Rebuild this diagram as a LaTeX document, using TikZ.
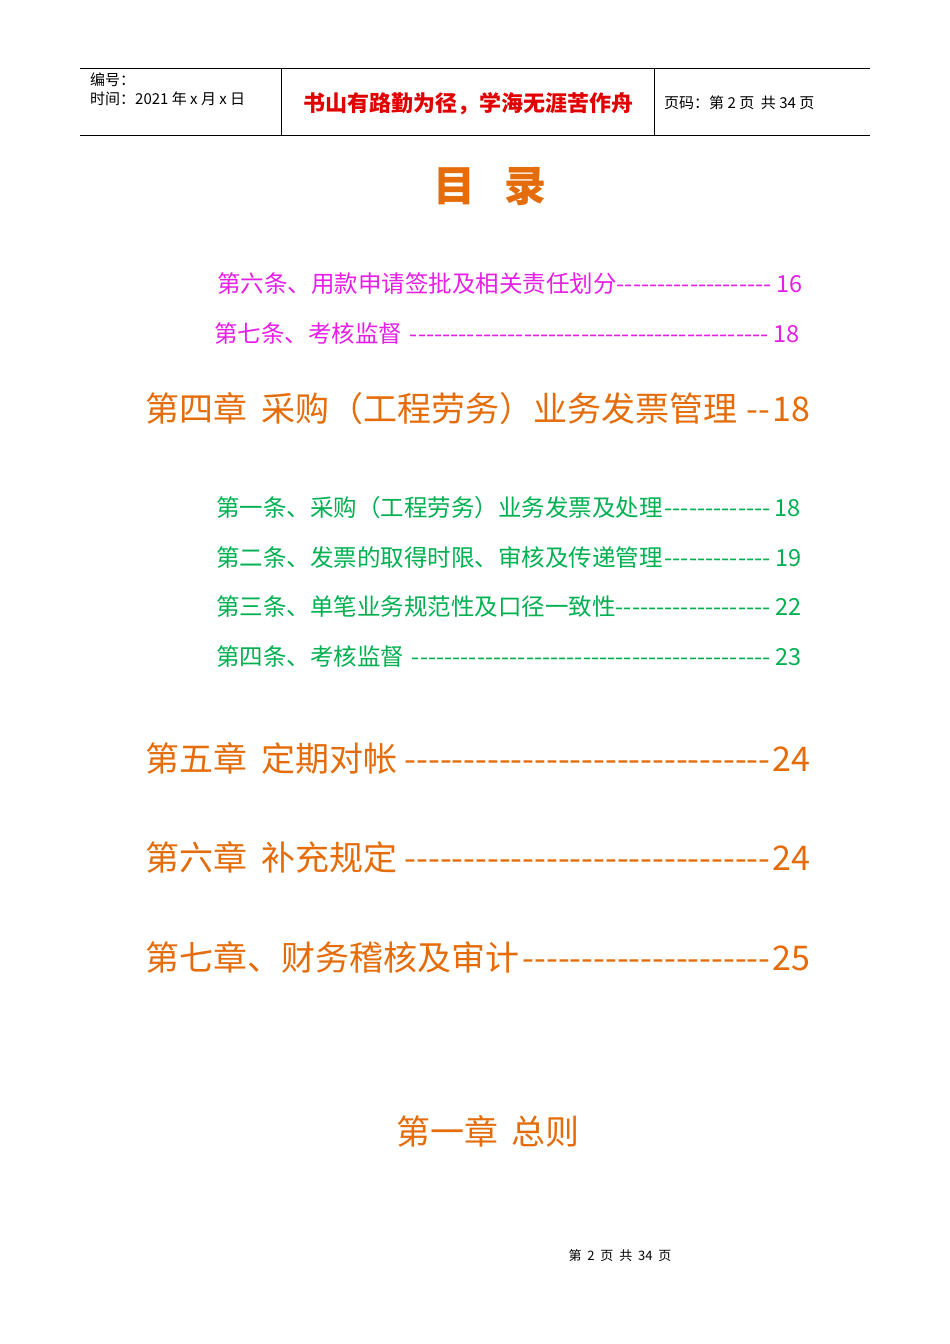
\documentclass[tikz,border=0pt]{standalone}
\usepackage{fontspec}
\setmainfont{Noto Sans CJK SC}
\definecolor{orng}{RGB}{228,108,10}
\definecolor{mag}{RGB}{230,30,230}
\definecolor{grn}{RGB}{0,176,80}
\definecolor{hred}{RGB}{225,0,0}
\newcommand{\tocline}[3]{\makebox[#1][s]{#2\leaders\hbox{-}\hfill#3}}
\tikzset{
  hdr/.style={anchor=west,inner sep=0pt,font=\fontsize{15}{16}\selectfont},
  sub/.style={anchor=west,inner sep=0pt,font=\fontsize{23.5}{24}\selectfont},
  chap/.style={anchor=west,inner sep=0pt,text=orng,font=\fontsize{34}{36}\selectfont},
}
\begin{document}
\begin{tikzpicture}[x=1pt,y=-1pt]
\useasboundingbox (0,0) rectangle (950,1344);
\draw[line width=0.8pt] (80,68) -- (870,68) (80,135) -- (870,135) (281,68) -- (281,135) (654,68) -- (654,135);
\node[hdr] (bh) at (90,80) {编号：};
\node[hdr] (sj) at (90,99) {时间：2021 年 x 月 x 日};
\node[inner sep=0pt,text=hred,font=\fontsize{22}{23}\selectfont\bfseries] (motto) at (468,104) {书山有路勤为径，学海无涯苦作舟};
\node[hdr] (ym) at (664,103) {页码：第 2 页\ \ 共 34 页};
\node[inner sep=0pt,text=orng,font=\fontsize{42}{44}\selectfont\bfseries] (title) at (490,186) {目\ \ \ 录};
\node[sub,text=mag] (m1) at (217,284) {\tocline{585pt}{第六条、用款申请签批及相关责任划分}{16}};
\node[sub,text=mag] (m2) at (214,334) {\tocline{585pt}{第七条、考核监督}{18}};
\node[chap] (c4) at (145,409) {\tocline{665pt}{第四章\hspace{14pt}采购（工程劳务）业务发票管理}{18}};
\node[sub,text=grn] (g1) at (216,508) {\tocline{584pt}{第一条、采购（工程劳务）业务发票及处理}{18}};
\node[sub,text=grn] (g2) at (216,558) {\tocline{585pt}{第二条、发票的取得时限、审核及传递管理}{19}};
\node[sub,text=grn] (g3) at (216,607) {\tocline{585pt}{第三条、单笔业务规范性及口径一致性}{22}};
\node[sub,text=grn] (g4) at (216,657) {\tocline{585pt}{第四条、考核监督}{23}};
\node[chap] (c5) at (145,758) {\tocline{665pt}{第五章\hspace{14pt}定期对帐}{24}};
\node[chap] (c6) at (145,857) {\tocline{665pt}{第六章\hspace{14pt}补充规定}{24}};
\node[chap] (c7) at (145,957) {\tocline{665pt}{第七章、财务稽核及审计}{25}};
\node[inner sep=0pt,text=orng,font=\fontsize{34}{36}\selectfont] (c1) at (488,1131) {第一章\hspace{14pt}总则};
\node[inner sep=0pt,font=\fontsize{13}{14}\selectfont] (ft) at (620,1256) {第\ \ 2\ \ 页\ \ 共\ \ 34\ \ 页};
\end{tikzpicture}
\end{document}
